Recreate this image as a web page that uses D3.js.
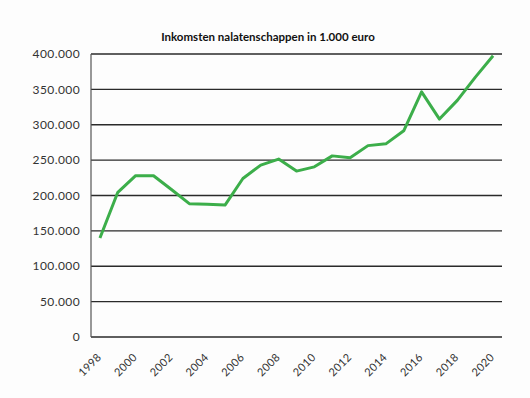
<!DOCTYPE html>
<html>
<head>
<meta charset="utf-8">
<script src="https://cdn.jsdelivr.net/npm/d3@7"></script>
<style>
  body { margin: 0; background: #fdfdfd; }
  svg { display: block; font-family: Lato, "Open Sans", sans-serif; }
</style>
</head>
<body>
<svg width="530" height="398"></svg>
<script>
// jaren en inkomsten (x 1.000 euro)
const jaren = ["1998","1999","2000","2001","2002","2003","2004","2005","2006","2007","2008",
  "2009","2010","2011","2012","2013","2014","2015","2016","2017","2018","2019","2020"];
const inkomsten = [140000, 204500, 228000, 228000, 208500, 188500, 187500, 186500, 224000, 243000, 251500,
  234500, 240500, 256000, 253500, 270500, 273000, 291500, 346500, 308000, 334500, 367000, 397500];
const yTicks = [0, 50000, 100000, 150000, 200000, 250000, 300000, 350000, 400000];
const jaarLabels = ["1998","2000","2002","2004","2006","2008","2010","2012","2014","2016","2018","2020"];

const svg = d3.select("svg");
const links = 91, rechts = 502, boven = 54, onder = 337;

const x = d3.scaleBand().domain(jaren).range([links, rechts]);
const y = d3.scaleLinear().domain([0, 400000]).range([onder, boven]);

svg.append("text")
    .attr("x", 268)
    .attr("y", 41)
    .attr("text-anchor", "middle")
    .attr("font-size", 11.5)
    .attr("font-weight", "bold")
    .attr("fill", "#111")
    .text("Inkomsten nalatenschappen in 1.000 euro");

// rasterlijnen
svg.append("g")
    .selectAll("line")
    .data(yTicks)
    .join("line")
    .attr("x1", links)
    .attr("x2", rechts)
    .attr("y1", d => y(d))
    .attr("y2", d => y(d))
    .attr("stroke", "#2a2a2a")
    .attr("stroke-width", 1.4);

svg.append("line")
    .attr("x1", links).attr("x2", links)
    .attr("y1", boven).attr("y2", onder)
    .attr("stroke", "#555")
    .attr("stroke-width", 1.2);

const fmt = d => d === 0 ? "0" : d3.format(",")(d).replace(/,/g, ".");

svg.append("g")
    .selectAll("text")
    .data(yTicks)
    .join("text")
    .attr("x", 80)
    .attr("y", d => y(d))
    .attr("dy", "0.35em")
    .attr("text-anchor", "end")
    .attr("font-size", 12)
    .attr("letter-spacing", 0.4)
    .attr("fill", "#333")
    .text(fmt);

svg.append("g")
    .selectAll("text")
    .data(jaarLabels)
    .join("text")
    .attr("transform", d => `translate(${x(d) + x.bandwidth() / 2 + 2}, 358) rotate(-45)`)
    .attr("text-anchor", "end")
    .attr("font-size", 11)
    .attr("letter-spacing", 0.3)
    .attr("fill", "#333")
    .text(d => d);

const lijn = d3.line()
    .x((d, i) => x(jaren[i]) + x.bandwidth() / 2)
    .y(d => y(d));

svg.append("path")
    .datum(inkomsten)
    .attr("d", lijn)
    .attr("fill", "none")
    .attr("stroke", "#3cae4a")
    .attr("stroke-width", 3)
    .attr("stroke-linejoin", "round");
</script>
</body>
</html>
